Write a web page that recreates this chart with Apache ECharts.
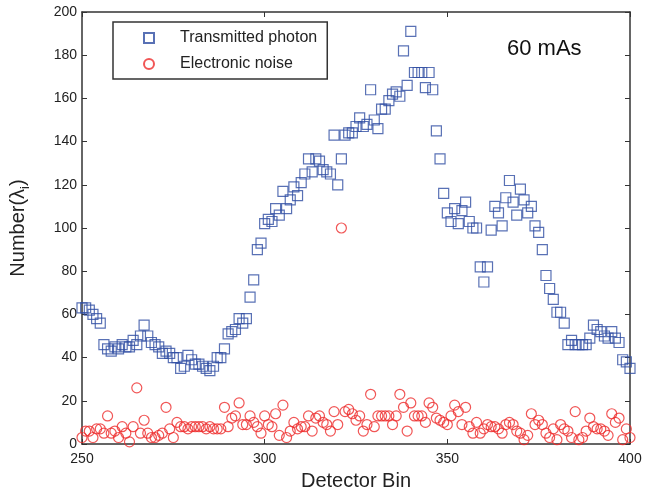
<!DOCTYPE html>
<html>
<head>
<meta charset="utf-8">
<script src="https://cdn.jsdelivr.net/npm/echarts@6/dist/echarts.min.js"></script>
<style>html,body{margin:0;padding:0;background:#fff;}#c{width:653px;height:496px;}</style>
</head>
<body>
<div id="c"></div>
<script>
const binStart = 250;
const transmitted = [
  63,63,62,60,58,56,46,44,43,45,
  44,46,45,45,48,46,50,55,50,47,
  46,45,42,43,42,40,40,35,36,41,
  39,37,37,36,35,34,36,40,40,44,
  51,52,53,58,56,58,68,76,90,93,
  102,104,103,109,106,117,109,113,119,115,
  121,125,132,126,132,131,127,126,125,143,
  120,132,143,144,144,147,151,147,148,164,
  150,146,155,155,159,162,163,161,182,166,
  191,172,172,172,165,172,164,145,132,116,
  107,103,109,102,108,112,103,100,100,82,
  75,82,99,110,107,101,114,122,112,106,
  118,113,107,110,101,98,90,78,72,67,
  61,61,56,46,48,46,46,46,46,49,
  55,53,52,50,49,52,49,47,39,38,
  35
];
const noise = [
  3,6,6,3,7,7,5,13,5,6,
  3,8,5,1,8,26,5,11,5,3,
  3,4,5,17,7,3,10,8,8,7,
  8,8,8,8,7,8,7,7,7,17,
  8,12,13,19,9,9,13,10,8,5,
  13,9,8,14,4,18,3,6,10,7,
  8,8,13,6,12,13,10,9,6,15,
  9,100,15,16,14,11,13,6,9,23,
  8,13,13,13,13,9,13,23,17,6,
  19,13,13,13,10,19,17,12,11,10,
  9,13,18,15,9,17,8,5,10,5,
  7,9,8,8,7,5,9,10,9,6,
  5,2,4,14,9,11,9,5,3,7,
  2,9,7,6,3,15,2,3,6,12,
  8,7,7,6,4,14,10,12,2,7,
  3
];
const seriesNames = ['Transmitted photon', 'Electronic noise'];
const annotation = '60 mAs';

const toPairs = arr => arr.map((v, i) => [binStart + i, v]);
const font = '"Liberation Sans", Arial, Helvetica, sans-serif';
const axisCol = '#333';
const txt = '#222';
const blue = '#2f4ea3';
const red = '#ee2c2c';

const chart = echarts.init(document.getElementById('c'), null, {renderer: 'canvas'});
const baseX = {
  type: 'value', min: 250, max: 400, interval: 50,
  axisLine: {show: true, onZero: false, lineStyle: {color: axisCol, width: 1.5}},
  axisTick: {show: true, inside: true, length: 5, lineStyle: {color: axisCol}},
  splitLine: {show: false}
};
const baseY = {
  type: 'value', min: 0, max: 200, interval: 20,
  axisLine: {show: true, onZero: false, lineStyle: {color: axisCol, width: 1.5}},
  axisTick: {show: true, inside: true, length: 5, lineStyle: {color: axisCol}},
  splitLine: {show: false}
};
chart.setOption({
  animation: false,
  backgroundColor: '#fff',
  textStyle: {fontFamily: font},
  grid: {left: 82, right: 23, top: 12, bottom: 51},
  title: {
    text: annotation, left: 502, top: 33,
    textStyle: {fontFamily: font, fontSize: 22, fontWeight: 'normal', color: '#111'}
  },
  legend: {
    orient: 'vertical', left: 113, top: 22,
    data: seriesNames,
    itemWidth: 10, itemHeight: 10, itemGap: 10,
    padding: [8, 10, 7, 30],
    borderColor: '#333', borderWidth: 1.5,
    backgroundColor: '#fff',
    textStyle: {fontFamily: font, fontSize: 16, color: txt, padding: [0, 0, 0, 21]}
  },
  xAxis: [
    Object.assign({}, baseX, {
      position: 'bottom',
      name: 'Detector Bin', nameLocation: 'middle', nameGap: 27,
      nameTextStyle: {fontFamily: font, fontSize: 20, color: txt},
      axisLabel: {fontFamily: font, fontSize: 14, color: txt, margin: 8}
    }),
    Object.assign({}, baseX, {position: 'top', axisLabel: {show: false}})
  ],
  yAxis: [
    Object.assign({}, baseY, {
      position: 'left',
      name: '{m|Number(λ}{sub|i}{m|)}', nameLocation: 'middle', nameGap: 50,
      nameTextStyle: {fontFamily: font, fontSize: 20, color: txt,
        rich: {
          m: {fontFamily: font, fontSize: 20, color: txt, lineHeight: 24, verticalAlign: 'bottom', padding: [0, 0, 4, 0]},
          sub: {fontFamily: font, fontSize: 13, color: txt, lineHeight: 24, verticalAlign: 'bottom'}
        }},
      axisLabel: {fontFamily: font, fontSize: 14, color: txt, margin: 5}
    }),
    Object.assign({}, baseY, {position: 'right', axisLabel: {show: false}})
  ],
  series: [
    {
      name: seriesNames[0], type: 'scatter', symbol: 'rect', symbolSize: 10,
      data: toPairs(transmitted),
      itemStyle: {color: 'rgba(255,255,255,0)', borderColor: blue, borderWidth: 1.2}
    },
    {
      name: seriesNames[1], type: 'scatter', symbol: 'circle', symbolSize: 10,
      data: toPairs(noise),
      itemStyle: {color: 'rgba(255,255,255,0)', borderColor: red, borderWidth: 1.2}
    }
  ]
});
</script>
</body>
</html>
